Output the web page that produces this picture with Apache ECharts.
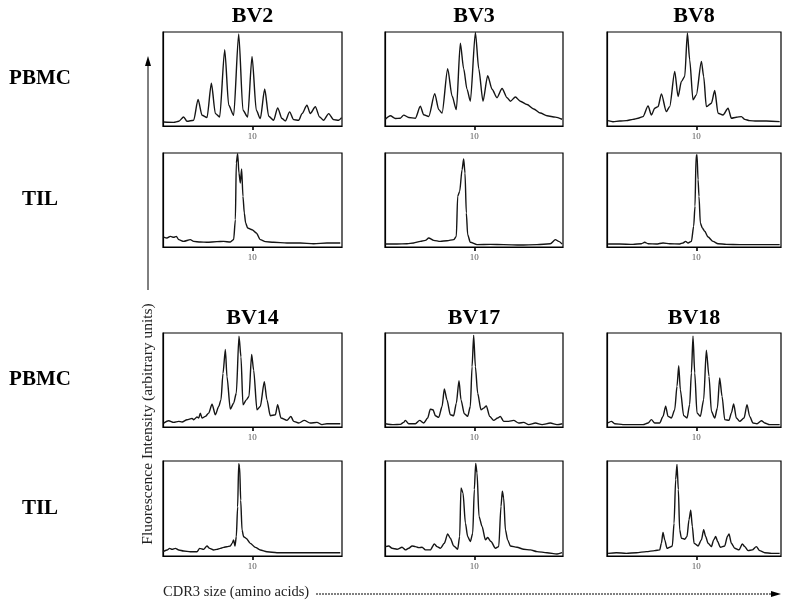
<!DOCTYPE html>
<html><head><meta charset="utf-8">
<script src="https://cdn.jsdelivr.net/npm/echarts@6/dist/echarts.min.js"></script>
<style>html,body{margin:0;padding:0;background:#fff}#c{width:800px;height:609px}</style>
</head><body><div id="c"></div>
<script>
// Column titles (TCR BV families), row labels, tick labels
const families = ['BV2','BV3','BV8','BV14','BV17','BV18'];
const rowLabels = ['PBMC','TIL','PBMC','TIL'];
const tickValues = [10];
const tickLabels = ['10'];
const xTitle = 'CDR3 size (amino acids)';
const yTitle = 'Fluorescence Intensity (arbitrary units)';

// Traces: [CDR3 size (aa), fluorescence intensity (% of panel height)]
const bv2_pbmc = [[3.35,4.3],[4.1,3.9],[4.48,5.0],[4.85,9.6],[5.1,5.0],[5.6,6.1],[5.93,28.2],[6.23,11.4],[6.6,8.9],[6.93,45.4],[7.23,13.2],[7.55,9.6],[7.93,81.1],[8.23,22.1],[8.6,11.4],[8.98,97.9],[9.3,16.8],[9.65,9.6],[9.98,73.9],[10.3,16.8],[10.6,7.9],[10.93,39.3],[11.23,10.4],[11.6,6.1],[11.9,19.3],[12.23,7.9],[12.48,5.4],[12.8,15.0],[13.1,6.8],[13.48,6.1],[13.73,13.2],[14.1,22.1],[14.35,13.2],[14.73,20.4],[15.05,9.6],[15.35,6.1],[15.73,13.2],[16.1,6.8],[16.48,6.1],[16.7,8.9]];
const bv3_pbmc = [[3.33,7.2],[3.7,10.9],[4.08,8.0],[4.45,8.3],[4.7,11.6],[5.08,9.1],[5.58,8.3],[5.95,21.0],[6.2,12.0],[6.58,10.1],[7.03,34.4],[7.33,17.4],[7.58,13.8],[8.0,60.9],[8.33,31.9],[8.65,17.4],[8.95,88.0],[9.2,60.9],[9.45,39.1],[9.7,26.4],[10.08,99.6],[10.33,60.9],[10.65,26.4],[11.0,53.6],[11.33,39.1],[11.7,30.1],[12.08,39.9],[12.45,30.1],[12.7,26.4],[13.08,30.8],[13.45,26.4],[13.95,22.8],[14.45,18.1],[14.95,13.8],[15.45,10.9],[16.08,9.4],[16.58,7.2]];
const bv8_pbmc = [[3.38,5.7],[3.75,4.6],[4.25,5.3],[4.75,5.7],[5.25,7.1],[5.63,8.2],[6.0,10.0],[6.38,21.4],[6.63,11.7],[6.88,18.9],[7.13,20.6],[7.38,34.2],[7.75,15.3],[8.0,20.6],[8.38,58.0],[8.63,31.3],[8.88,47.3],[9.13,52.7],[9.33,98.9],[9.5,70.5],[9.75,27.8],[10.0,33.1],[10.38,68.7],[10.55,52.7],[10.75,20.6],[11.13,24.2],[11.38,37.7],[11.63,13.5],[12.0,11.7],[12.38,18.9],[12.63,8.2],[13.0,9.3],[13.38,10.0],[13.63,7.1],[14.0,5.7],[14.5,5.3],[15.25,5.3],[16.25,4.6]];
const bv2_til = [[3.35,10.6],[3.6,9.6],[3.85,11.3],[4.1,10.3],[4.3,11.3],[4.48,7.8],[4.85,6.0],[5.35,7.8],[5.6,6.0],[6.1,5.3],[6.6,5.0],[7.35,5.7],[7.85,6.0],[8.35,5.3],[8.6,7.8],[8.73,29.1],[8.8,89.4],[8.9,99.3],[9.0,78.7],[9.1,68.1],[9.2,83.0],[9.3,53.9],[9.4,36.2],[9.5,25.5],[9.65,20.2],[9.98,18.4],[10.3,14.9],[10.6,7.8],[10.98,5.7],[11.6,5.0],[12.6,4.3],[13.6,4.3],[14.6,3.5],[15.6,4.3],[16.6,4.3]];
const bv3_til = [[3.33,3.2],[4.2,3.2],[4.95,3.5],[5.45,4.3],[5.95,6.0],[6.33,7.1],[6.58,9.6],[6.95,7.1],[7.45,6.0],[7.95,6.7],[8.45,7.8],[8.65,11.3],[8.75,53.9],[8.9,59.2],[9.08,82.3],[9.2,93.6],[9.3,78.7],[9.4,36.2],[9.5,13.1],[9.7,5.0],[10.2,2.5],[11.2,2.8],[12.2,2.5],[13.45,2.1],[14.7,2.5],[15.7,3.5],[16.08,7.8],[16.33,6.0],[16.58,3.2]];
const bv8_til = [[3.38,3.2],[4.25,3.2],[5.25,2.8],[5.88,3.5],[6.13,5.0],[6.38,3.5],[7.0,3.2],[7.5,4.3],[8.0,3.5],[8.75,3.2],[9.0,4.3],[9.2,6.0],[9.38,4.3],[9.63,6.0],[9.8,22.0],[9.9,43.3],[9.98,96.5],[10.05,98.2],[10.13,71.6],[10.2,53.9],[10.3,25.5],[10.45,20.2],[10.63,16.7],[10.88,10.6],[11.25,6.0],[11.63,3.5],[12.25,2.8],[13.25,2.5],[14.25,2.5],[16.25,2.5]];
const bv14_pbmc = [[3.35,4.2],[3.73,6.7],[4.1,4.9],[4.48,6.0],[4.73,5.3],[5.1,7.7],[5.48,9.2],[5.6,7.7],[5.85,10.6],[5.98,9.5],[6.1,14.8],[6.23,9.5],[6.48,11.3],[6.73,14.8],[6.98,24.3],[7.23,13.0],[7.48,21.8],[7.65,28.9],[7.8,57.0],[7.98,82.4],[8.1,53.5],[8.35,19.0],[8.6,25.4],[8.8,35.9],[9.0,96.5],[9.15,74.6],[9.3,23.6],[9.55,28.9],[9.75,32.4],[9.95,77.1],[10.1,60.6],[10.35,18.3],[10.6,21.8],[10.9,48.2],[11.1,28.9],[11.35,12.0],[11.73,13.0],[11.9,23.6],[12.15,9.5],[12.6,7.0],[12.9,11.3],[13.1,6.0],[13.48,4.2],[13.9,7.0],[14.35,4.2],[14.85,4.9],[15.23,2.5],[15.6,3.5],[16.1,3.5],[16.6,3.5]];
const bv17_pbmc = [[3.33,3.5],[3.95,2.5],[4.45,2.8],[4.7,4.9],[4.83,7.0],[5.08,3.5],[5.58,3.5],[5.9,7.0],[6.2,4.2],[6.5,9.5],[6.7,19.0],[6.9,18.3],[7.08,12.0],[7.33,10.2],[7.58,21.8],[7.75,40.5],[7.95,28.9],[8.2,13.0],[8.45,12.0],[8.65,25.4],[8.85,49.3],[9.0,28.9],[9.25,14.1],[9.5,11.3],[9.7,21.8],[9.83,64.1],[9.95,97.5],[10.08,64.1],[10.25,35.9],[10.5,18.3],[10.7,20.1],[10.9,22.5],[11.15,11.3],[11.45,7.0],[11.75,9.5],[11.95,11.3],[12.2,6.0],[12.58,6.0],[12.95,7.0],[13.33,4.2],[13.7,4.9],[14.08,2.5],[14.58,4.2],[15.08,2.5],[15.7,4.2],[16.2,2.5],[16.6,3.5]];
const bv18_pbmc = [[3.38,4.3],[3.63,6.0],[3.88,3.5],[4.5,2.5],[5.25,2.5],[6.0,2.5],[6.38,4.3],[6.63,7.8],[6.88,4.3],[7.25,4.3],[7.5,11.3],[7.7,22.0],[7.88,11.3],[8.13,9.6],[8.38,18.4],[8.55,43.3],[8.68,65.2],[8.8,39.7],[9.05,12.1],[9.3,9.6],[9.5,23.8],[9.63,57.4],[9.75,96.5],[9.88,57.4],[10.05,14.9],[10.3,11.3],[10.55,29.1],[10.75,81.6],[10.95,53.9],[11.13,16.7],[11.38,9.6],[11.58,20.2],[11.75,52.1],[11.93,32.6],[12.13,7.8],[12.45,7.1],[12.63,14.9],[12.8,24.5],[13.0,9.6],[13.25,6.0],[13.58,9.6],[13.8,23.8],[14.0,11.3],[14.25,4.3],[14.55,3.5],[14.88,6.7],[15.13,4.3],[15.5,2.5],[16.25,2.5]];
const bv14_til = [[3.3,4.5],[3.6,6.3],[3.8,8.0],[3.98,7.0],[4.23,8.0],[4.48,6.3],[4.85,5.2],[5.35,4.5],[5.85,4.5],[6.05,8.0],[6.35,7.0],[6.6,10.5],[6.8,8.0],[7.1,6.3],[7.35,7.0],[7.6,8.0],[7.85,9.1],[8.1,9.8],[8.35,10.5],[8.48,13.3],[8.6,16.8],[8.7,10.5],[8.8,20.3],[8.9,51.7],[8.98,97.2],[9.05,93.7],[9.13,58.7],[9.23,27.3],[9.35,20.3],[9.55,18.5],[9.85,13.3],[10.23,9.1],[10.6,6.3],[11.1,4.5],[11.85,3.5],[13.1,3.5],[14.35,3.5],[15.6,3.5],[16.6,3.5]];
const bv17_til = [[3.33,9.9],[3.58,10.6],[3.83,8.1],[4.2,7.1],[4.58,9.2],[4.83,6.4],[5.08,8.1],[5.33,10.6],[5.58,9.9],[5.83,8.8],[6.08,9.2],[6.33,6.4],[6.7,6.4],[7.0,12.7],[7.2,9.9],[7.45,8.1],[7.75,13.4],[8.0,23.3],[8.2,18.7],[8.45,10.6],[8.75,7.1],[8.9,20.5],[9.0,71.7],[9.15,66.4],[9.33,34.6],[9.5,20.5],[9.7,15.2],[9.88,24.0],[10.0,70.0],[10.1,97.5],[10.2,87.6],[10.35,41.7],[10.58,31.1],[10.83,17.0],[11.0,19.4],[11.25,15.2],[11.58,8.1],[11.83,9.9],[12.0,52.3],[12.1,68.2],[12.2,61.1],[12.33,27.6],[12.5,17.0],[12.7,10.6],[13.2,9.2],[13.7,7.1],[14.2,6.4],[14.7,4.6],[15.45,3.5],[16.2,2.1],[16.58,3.5]];
const bv18_til = [[3.38,2.8],[4.0,3.5],[4.75,2.8],[5.5,3.5],[6.25,4.6],[6.88,5.7],[7.25,6.4],[7.38,13.4],[7.5,24.7],[7.63,17.0],[7.8,8.1],[8.0,9.2],[8.2,10.6],[8.33,34.6],[8.45,80.6],[8.55,96.5],[8.65,70.0],[8.75,27.6],[8.88,18.7],[9.13,17.7],[9.3,20.5],[9.45,38.2],[9.58,48.1],[9.7,31.1],[9.83,13.4],[10.13,10.6],[10.38,17.0],[10.55,27.6],[10.7,20.5],[10.88,13.4],[11.13,9.9],[11.3,17.0],[11.45,20.5],[11.6,15.2],[11.8,9.2],[12.13,10.6],[12.33,20.5],[12.45,23.3],[12.63,13.4],[12.88,8.1],[13.2,6.4],[13.45,12.7],[13.63,9.9],[13.88,5.7],[14.2,6.4],[14.5,9.9],[14.75,5.7],[15.13,3.5],[15.63,2.8],[16.25,2.8]];

const panels = [bv2_pbmc, bv3_pbmc, bv8_pbmc, bv2_til, bv3_til, bv8_til,
                bv14_pbmc, bv17_pbmc, bv18_pbmc, bv14_til, bv17_til, bv18_til];

// layout (pixels)
const colLeft = [163, 385, 607];
const colWidth = [179, 178, 174];
const colMax = [16.73, 16.65, 16.35];
const rowTop = [32, 153, 333, 461];
const rowHeight = [94, 94, 94, 95];
const xMin = 3.3;
const serif = '"Liberation Serif", "DejaVu Serif", serif';

const grid = [], xAxis = [], yAxis = [], series = [];
panels.forEach((d, i) => {
  const r = Math.floor(i / 3), c = i % 3;
  grid.push({left: colLeft[c], top: rowTop[r], width: colWidth[c], height: rowHeight[r],
    show: true, borderColor: '#000', borderWidth: 1.2, backgroundColor: 'transparent'});
  xAxis.push({gridIndex: i, type: 'value', min: xMin, max: colMax[c],
    axisLine: {show: true, onZero: false, lineStyle: {color: '#000', width: 1.2}},
    axisTick: {show: true, customValues: tickValues, inside: false, length: 4, lineStyle: {color: '#000', width: 1.6}},
    axisLabel: {show: true, customValues: tickValues, formatter: v => tickLabels[tickValues.indexOf(Math.round(v))] || '',
      fontSize: 9, color: '#555', fontFamily: serif, margin: 6},
    splitLine: {show: false}});
  yAxis.push({gridIndex: i, type: 'value', min: 0, max: 100,
    axisLine: {show: true, lineStyle: {color: '#000', width: 1.2}},
    axisTick: {show: false}, axisLabel: {show: false}, splitLine: {show: false}});
  series.push({type: 'line', xAxisIndex: i, yAxisIndex: i, data: d, showSymbol: false,
    symbol: 'none', smooth: 0.25, smoothMonotone: 'x',
    lineStyle: {color: '#151515', width: 1.4, join: 'round'}, silent: true, animation: false});
});

const graphic = [];
// column titles
families.forEach((f, i) => {
  const r = i < 3 ? 0 : 2, c = i % 3;
  graphic.push({type: 'text', x: colLeft[c] + colWidth[c] / 2, y: r === 0 ? 16 : 318,
    style: {text: f, font: 'bold 22px ' + serif, fill: '#000', textAlign: 'center', textVerticalAlign: 'middle'}});
});
// row labels
rowLabels.forEach((t, r) => {
  graphic.push({type: 'text', x: 40, y: rowTop[r] + rowHeight[r] / 2,
    style: {text: t, font: 'bold 21px ' + serif, fill: '#000', textAlign: 'center', textVerticalAlign: 'middle'}});
});
// y axis title + arrow
graphic.push({type: 'text', x: 148, y: 424, rotation: Math.PI / 2,
  style: {text: yTitle, font: '15.5px ' + serif, fill: '#222', textAlign: 'center', textVerticalAlign: 'middle'}});
graphic.push({type: 'line', shape: {x1: 148, y1: 290, x2: 148, y2: 64}, style: {stroke: '#000', lineWidth: 1}});
graphic.push({type: 'polygon', shape: {points: [[148, 56], [145, 66], [151, 66]]}, style: {fill: '#000'}});
// x axis title + arrow
graphic.push({type: 'text', x: 163, y: 592,
  style: {text: xTitle, font: '14.5px ' + serif, fill: '#222', textAlign: 'left', textVerticalAlign: 'middle'}});
graphic.push({type: 'line', shape: {x1: 316, y1: 594, x2: 772, y2: 594}, style: {stroke: '#000', lineWidth: 1, lineDash: [2, 1]}});
graphic.push({type: 'polygon', shape: {points: [[781, 594], [771, 591], [771, 597]]}, style: {fill: '#000'}});

const chart = echarts.init(document.getElementById('c'), null, {renderer: 'canvas'});
chart.setOption({animation: false, backgroundColor: '#fff', grid, xAxis, yAxis, series, graphic});
</script></body></html>
